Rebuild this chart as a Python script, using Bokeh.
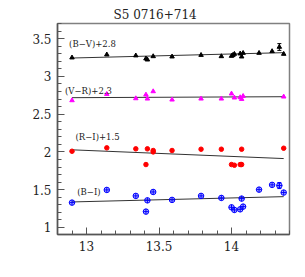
from bokeh.plotting import figure
from bokeh.models import Label, Whisker, ColumnDataSource, TeeHead, FixedTicker
from bokeh.embed import file_html
from bokeh.resources import INLINE

# ---- data ----
bv_x = [12.90, 13.14, 13.34, 13.41, 13.42, 13.46, 13.59, 13.79, 13.93, 14.00,
        14.01, 14.02, 14.06, 14.07, 14.08, 14.19, 14.28, 14.33, 14.36]
bv = [0.448, 0.488, 0.475, 0.435, 0.421, 0.465, 0.461, 0.482, 0.465, 0.469,
      0.482, 0.496, 0.501, 0.461, 0.509, 0.509, 0.532, 0.589, 0.496]
bv_err = [0, 0, 0, 0, 0, 0, 0, 0, 0, 0, 0, 0, 0, 0, 0, 0, 0, 0.045, 0]

vr_x = [12.90, 13.14, 13.34, 13.41, 13.42, 13.46, 13.59, 13.79, 13.93, 14.00,
        14.02, 14.06, 14.07, 14.08, 14.36]
vr = [0.382, 0.465, 0.408, 0.457, 0.404, 0.501, 0.391, 0.404, 0.404, 0.471,
      0.418, 0.422, 0.399, 0.439, 0.431]

ri_x = [12.90, 13.14, 13.34, 13.42, 13.41, 13.46, 13.46, 13.59, 13.79, 13.93,
        14.00, 14.02, 14.06, 14.07, 14.07, 14.36]
ri = [0.509, 0.554, 0.541, 0.541, 0.333, 0.519, 0.500, 0.519, 0.536, 0.536,
      0.333, 0.324, 0.333, 0.333, 0.536, 0.549]

bi_x = [12.90, 13.14, 13.34, 13.42, 13.41, 13.46, 13.59, 13.79, 13.93, 14.00,
        14.02, 14.06, 14.07, 14.08, 14.19, 14.28, 14.33, 14.36]
bi = [1.329, 1.497, 1.418, 1.359, 1.210, 1.470, 1.365, 1.418, 1.391, 1.267,
      1.232, 1.240, 1.382, 1.276, 1.501, 1.564, 1.555, 1.462]
bi_err = [0, 0, 0, 0, 0, 0, 0, 0, 0, 0, 0, 0, 0, 0, 0, 0, 0.04, 0]

offsets = {"bv": 2.8, "vr": 2.3, "ri": 1.5, "bi": 0.0}
labels = {"bv": "(B\u2212V)+2.8", "vr": "(V\u2212R)+2.3", "ri": "(R\u2212I)+1.5", "bi": "(B\u2212I)"}

fit_x = [12.90, 14.36]
fit_bv = [0.443, 0.514]
fit_vr = [0.418, 0.431]
fit_ri = [0.528, 0.412]
fit_bi = [1.338, 1.408]

x_ticks = [13, 13.5, 14]
y_ticks = [1, 1.5, 2, 2.5, 3, 3.5]
title_text = "S5 0716+714"

SERIF = "DejaVu Serif"

p = figure(width=305, height=277, output_backend="svg", toolbar_location=None,
           x_range=(12.8, 14.4), y_range=(0.907, 3.70),
           frame_width=232, frame_height=211,
           min_border_left=57, min_border_right=16, min_border_top=23,
           min_border_bottom=43)
p.title.text = title_text
p.title.text_font = SERIF
p.title.text_font_size = "12px"
p.title.text_font_style = "normal"
p.title.align = "left"
p.title.offset = 56
p.title.standoff = 3
p.title.text_color = "#222222"

p.grid.visible = False
p.outline_line_color = "#808080"
p.outline_line_width = 1.5
p.background_fill_color = "white"
p.border_fill_color = "white"

for ax in (p.xaxis[0], p.yaxis[0]):
    ax.major_tick_in = 7
    ax.major_tick_out = 0
    ax.minor_tick_in = 4
    ax.minor_tick_out = 0
    ax.axis_line_color = "#555555"
    ax.axis_line_width = 1.5
    ax.major_tick_line_color = "#555555"
    ax.minor_tick_line_color = "#555555"
    ax.major_label_text_font = SERIF
    ax.major_label_text_font_size = "12px"
    ax.major_label_text_color = "#222222"
    ax.major_label_standoff = 6

p.xaxis.ticker = FixedTicker(ticks=x_ticks,
                             minor_ticks=[round(12.8 + 0.1 * i, 1) for i in range(17)])
p.yaxis.ticker = FixedTicker(ticks=y_ticks,
                             minor_ticks=[round(0.9 + 0.1 * i, 1) for i in range(29)])

def shift(vals, off):
    return [v + off for v in vals]

# fit lines
for fx, fy, key in ((fit_x, fit_bv, "bv"), (fit_x, fit_vr, "vr"),
                    (fit_x, fit_ri, "ri"), (fit_x, fit_bi, "bi")):
    p.line(fx, shift(fy, offsets[key]), line_color="#333333", line_width=1)

# error bars
for xs, ys, es, key, col in ((bv_x, bv, bv_err, "bv", "black"), (bi_x, bi, bi_err, "bi", "blue")):
    sel = [i for i, e in enumerate(es) if e > 0]
    src = ColumnDataSource(dict(
        x=[xs[i] for i in sel],
        lo=[ys[i] + offsets[key] - es[i] for i in sel],
        hi=[ys[i] + offsets[key] + es[i] for i in sel]))
    w = Whisker(source=src, base="x", lower="lo", upper="hi", line_color=col, line_width=1,
                upper_head=TeeHead(size=4, line_color=col), lower_head=TeeHead(size=4, line_color=col))
    p.add_layout(w)

p.scatter(bv_x, shift(bv, offsets["bv"]), marker="triangle", size=4.5,
          fill_color="black", line_color="black")
p.scatter(vr_x, shift(vr, offsets["vr"]), marker="triangle", size=4.5,
          fill_color="magenta", line_color="magenta")
p.scatter(ri_x, shift(ri, offsets["ri"]), marker="circle", size=4.5,
          fill_color="red", line_color="red")
p.scatter(bi_x, shift(bi, offsets["bi"]), marker="circle_cross", size=5.5,
          fill_color="blue", fill_alpha=0.3, line_color="blue", line_width=1)

label_pos = {"bv": (12.88, 3.424), "vr": (12.852, 2.805), "ri": (12.924, 2.195), "bi": (12.936, 1.466)}
for key, (lx, ly) in label_pos.items():
    p.add_layout(Label(x=lx, y=ly, text=labels[key], text_font=SERIF,
                       text_font_size="8.5px", text_baseline="middle",
                       text_color="#222222"))

open("out.html", "w").write(file_html(p, INLINE))
